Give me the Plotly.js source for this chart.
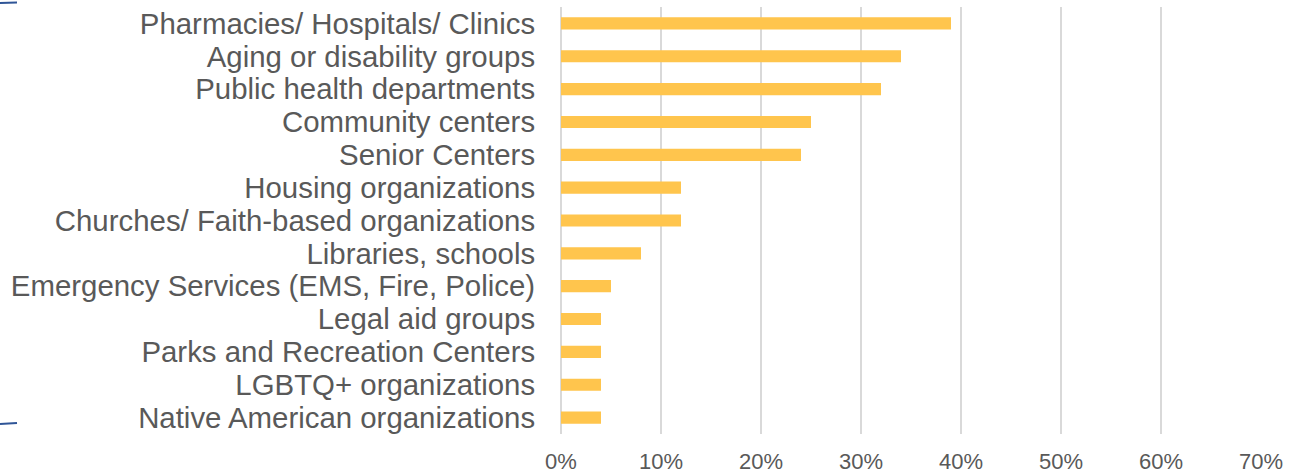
<!DOCTYPE html>
<html><head><meta charset="utf-8">
<script src="https://cdn.plot.ly/plotly-3.0.1.min.js"></script>
<style>html,body{margin:0;padding:0;background:#fff;}#chart{width:1290px;height:474px;}</style>
</head><body><div id="chart"></div>
<script>
const categories = [
  "Pharmacies/ Hospitals/ Clinics",
  "Aging or disability groups",
  "Public health departments",
  "Community centers",
  "Senior Centers",
  "Housing organizations",
  "Churches/ Faith-based organizations",
  "Libraries, schools",
  "Emergency Services (EMS, Fire, Police)",
  "Legal aid groups",
  "Parks and Recreation Centers",
  "LGBTQ+ organizations",
  "Native American organizations"
];
const values = [0.39, 0.34, 0.32, 0.25, 0.24, 0.12, 0.12, 0.08, 0.05, 0.04, 0.04, 0.04, 0.04];
const tickValues = [0, 0.1, 0.2, 0.3, 0.4, 0.5, 0.6, 0.7];
const tickLabels = ["0%", "10%", "20%", "30%", "40%", "50%", "60%", "70%"];

const W = 1290, H = 474;
const m = {l: 561, r: 29, t: 7, b: 40};
const pw = W - m.l - m.r, ph = H - m.t - m.b;
const px = x => (x - m.l) / pw;
const py = y => 1 - (y - m.t) / ph;

const trace = {
  type: 'bar',
  orientation: 'h',
  x: values,
  y: categories,
  marker: {color: '#FFC54D'},
  hoverinfo: 'x+y'
};

const layout = {
  width: W, height: H,
  margin: m,
  paper_bgcolor: '#fff', plot_bgcolor: '#fff',
  showlegend: false,
  bargap: 0.63,
  font: {family: '"Liberation Sans", Arial, sans-serif', color: '#595959'},
  xaxis: {
    range: [0, 0.7],
    tickmode: 'array',
    tickvals: tickValues,
    ticktext: tickLabels,
    showgrid: true,
    gridcolor: '#D9D9D9',
    gridwidth: 1.5,
    zeroline: true,
    zerolinecolor: '#D9D9D9',
    zerolinewidth: 1.5,
    showline: false,
    ticks: 'outside',
    ticklen: 8,
    tickcolor: 'rgba(0,0,0,0)',
    tickfont: {size: 22, color: '#595959'},
    fixedrange: true
  },
  yaxis: {
    autorange: 'reversed',
    type: 'category',
    tickmode: 'array',
    tickvals: categories,
    ticktext: categories,
    showgrid: false,
    zeroline: false,
    showline: false,
    ticks: 'outside',
    ticklen: 19,
    tickcolor: 'rgba(0,0,0,0)',
    tickfont: {size: 29.4, color: '#595959'},
    fixedrange: true
  },
  shapes: [
    {type: 'line', xref: 'paper', yref: 'paper',
     x0: px(0), y0: py(3), x1: px(17), y1: py(2.5),
     line: {color: '#2F5597', width: 2}},
    {type: 'line', xref: 'paper', yref: 'paper',
     x0: px(0), y0: py(424), x1: px(17), y1: py(423),
     line: {color: '#2F5597', width: 2}}
  ]
};

Plotly.newPlot('chart', [trace], layout, {displayModeBar: false, staticPlot: true});
</script>
</body></html>
